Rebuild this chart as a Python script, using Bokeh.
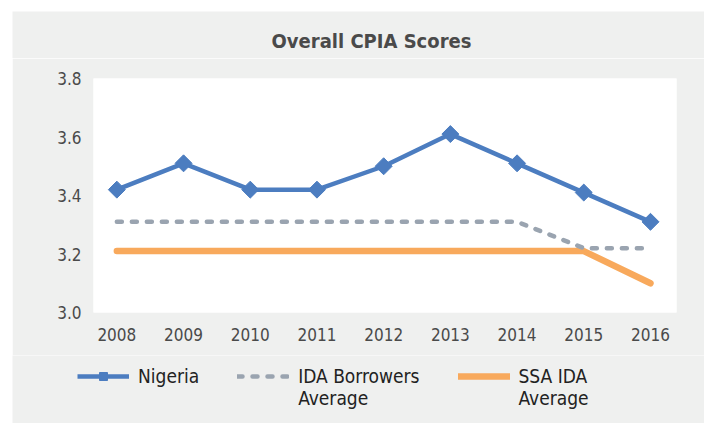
import math
from bokeh.plotting import figure
from bokeh.layouts import column
from bokeh.models import Range1d, FixedTicker, Legend, LegendItem, ColumnDataSource, CustomJSTickFormatter, Label
from bokeh.embed import file_html
from bokeh.resources import INLINE

years = [2008, 2009, 2010, 2011, 2012, 2013, 2014, 2015, 2016]
nigeria = [3.42, 3.51, 3.42, 3.42, 3.50, 3.61, 3.51, 3.41, 3.31]
ida_borrowers = [3.31, 3.31, 3.31, 3.31, 3.31, 3.31, 3.31, 3.22, 3.22]
ssa_ida = [3.21, 3.21, 3.21, 3.21, 3.21, 3.21, 3.21, 3.21, 3.10]
y_ticks = [3.0, 3.2, 3.4, 3.6, 3.8]
title_text = "Overall CPIA Scores"
series_labels = ["Nigeria", "IDA Borrowers\nAverage", "SSA IDA\nAverage"]

FONT = "DejaVu Sans Condensed"
BG = "#eff0ef"
BLUE = "#4c7dc0"
GRAY = "#9aa4b0"
ORANGE = "#f8a95c"
W = 692

# title strip
top = figure(width=W, height=47, output_backend="svg", toolbar_location=None,
             x_range=Range1d(0, W), y_range=Range1d(0, 47),
             x_axis_location=None, y_axis_location=None, min_border=0,
             background_fill_color=BG, border_fill_color=BG, outline_line_color=None)
top.frame_align = False
top.grid.visible = False
top.add_layout(Label(x=359, y=18, text=title_text, text_font=FONT, text_font_size="20px",
                     text_font_style="bold", text_color="#4a4a4a",
                     text_align="center", text_baseline="middle"))

# main chart
src = ColumnDataSource(dict(year=years, nigeria=nigeria, ida=ida_borrowers, ssa=ssa_ida))

p = figure(width=W, height=297, output_backend="svg", toolbar_location=None,
           x_range=Range1d(2008 - 0.35, 2016 + 0.39), y_range=Range1d(3.0, 3.8),
           min_border_left=81, min_border_right=28, min_border_top=20, min_border_bottom=43,
           background_fill_color="white", border_fill_color=BG, outline_line_color=None)
p.frame_align = False

p.xgrid.visible = False
p.ygrid.visible = False
p.xaxis.ticker = FixedTicker(ticks=years)
p.yaxis.ticker = FixedTicker(ticks=y_ticks)
p.yaxis.formatter = CustomJSTickFormatter(code="return tick.toFixed(1);")
for ax in (p.xaxis[0], p.yaxis[0]):
    ax.axis_line_color = None
    ax.major_tick_line_color = None
    ax.minor_tick_line_color = None
    ax.major_label_text_font = FONT
    ax.major_label_text_font_size = "17px"
    ax.major_label_text_color = "#4a4a4a"
p.xaxis.major_label_standoff = 9
p.yaxis.major_label_standoff = 6

ssa_style = dict(line_color=ORANGE, line_width=6.5, line_cap="round", line_join="round")
ida_style = dict(line_color=GRAY, line_width=4.5, line_dash="5 10", line_cap="round")
nig_line_style = dict(line_color=BLUE, line_width=4.5)
nig_marker_style = dict(marker="square", angle=math.pi / 4, size=12, fill_color=BLUE, line_color=BLUE)

p.line("year", "ssa", source=src, **ssa_style)
p.line("year", "ida", source=src, **ida_style)
p.line("year", "nigeria", source=src, **nig_line_style)
p.scatter("year", "nigeria", source=src, **nig_marker_style)

# legend strip below the chart (its dummy renderers sit outside the visible range)
leg = figure(width=W, height=68, output_backend="svg", toolbar_location=None,
             x_range=Range1d(0, 1), y_range=Range1d(0, 1),
             x_axis_location=None, y_axis_location=None,
             min_border=0, background_fill_color=BG,
             border_fill_color=BG, outline_line_color=None)
leg.frame_align = False
leg.grid.visible = False
dummy = ColumnDataSource(dict(x=[-10, -11], y=[-10, -11]))
l_ssa = leg.line("x", "y", source=dummy, **ssa_style)
l_ida = leg.line("x", "y", source=dummy, **ida_style)
l_nig = leg.line("x", "y", source=dummy, **nig_line_style)
l_nig_m = leg.scatter("x", "y", source=dummy, **nig_marker_style)

legend = Legend(items=[
    LegendItem(label=series_labels[0], renderers=[l_nig, l_nig_m]),
    LegendItem(label="\n" + series_labels[1], renderers=[l_ida]),
    LegendItem(label="\n" + series_labels[2], renderers=[l_ssa]),
], orientation="horizontal", location=(65, 14), background_fill_alpha=0,
    border_line_color=None, label_text_font=FONT, label_text_font_size="19px",
    label_text_color="#222222", glyph_width=52, label_standoff=9, spacing=38,
    padding=0, margin=0)
leg.add_layout(legend, "center")

layout = column(top, p, leg, spacing=0)
layout.margin = (11, 0, 0, 12)

open("out.html", "w").write(file_html(layout, INLINE))
